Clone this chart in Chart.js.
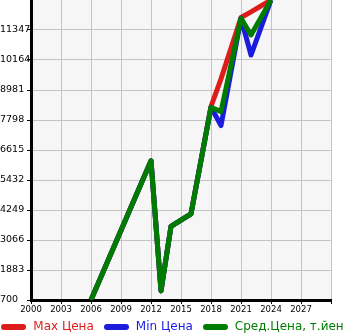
<!DOCTYPE html>
<html>
<head>
<meta charset="utf-8">
<script src="https://cdn.jsdelivr.net/npm/chart.js@4.4.1/dist/chart.umd.min.js"></script>
<style>
  html, body { margin: 0; padding: 0; background: #fff; overflow: hidden; }
  #wrap { width: 345px; height: 318px; }
  #legend { width: 345px; height: 17px; display: flex; justify-content: center; white-space: nowrap;
            font: 12px 'DejaVu Sans'; line-height: 19px; }
  .item { display: flex; align-items: center; margin: 0 5px; flex-shrink: 0; }
  .mark { display: inline-block; width: 25px; height: 6px; border-radius: 3px; margin-right: 7px; }
</style>
</head>
<body>
<div id="wrap"><canvas id="canvas" width="345" height="318"></canvas></div>
<div id="legend"></div>
<script>
const years = [2006, 2012, 2013, 2014, 2016, 2018, 2019, 2021, 2022, 2024]
const maxPrice = [700, 6190, 1060, 3600, 4100, 8330, 9420, 11840, 12060, 12530]
const minPrice = [700, 6190, 1060, 3600, 4100, 8300, 7580, 11810, 10360, 12530]
const avgPrice = [700, 6190, 1060, 3600, 4100, 8300, 8130, 11810, 11150, 12530]
const yTicks = [700, 1883, 3066, 4249, 5432, 6615, 7798, 8981, 10164, 11347]
const xTicks = [2000, 2003, 2006, 2009, 2012, 2015, 2018, 2021, 2024, 2027, 2030]
const seriesNames = ['Max Цена', 'Min Цена', 'Сред.Цена, т.йен']
const seriesColors = ['#dd1c1c', '#1c1cdd', '#007d00']

function points(vals) {
  return years.map((y, i) => ({ x: y, y: vals[i] }))
}

const plotBg = {
  id: 'plotBg',
  beforeDraw(chart) {
    const a = chart.chartArea
    const c = chart.ctx
    c.save()
    c.fillStyle = '#f6f6f6'
    c.fillRect(a.left, a.top, a.right - a.left, a.bottom - a.top)
    c.restore()
  }
}

const ctx = document.getElementById('canvas').getContext('2d')
const myChart = new Chart(ctx, {
  type: 'line',
  data: {
    datasets: [maxPrice, minPrice, avgPrice].map((vals, i) => ({
      label: seriesNames[i],
      data: points(vals),
      borderColor: seriesColors[i],
      backgroundColor: seriesColors[i],
      borderWidth: 5,
      borderJoinStyle: 'round',
      pointRadius: 0,
      tension: 0,
      order: 3 - i
    }))
  },
  options: {
    responsive: false,
    animation: false,
    layout: { padding: { top: 0, right: 14, left: 0, bottom: 0 } },
    scales: {
      x: {
        type: 'linear',
        min: 2000,
        max: 2030,
        afterBuildTicks: s => { s.ticks = xTicks.map(v => ({ value: v })) },
        afterFit: s => { s.height = 18 },
        ticks: {
          autoSkip: false,
          maxRotation: 0,
          padding: 1,
          color: '#000',
          font: { family: 'DejaVu Sans', size: 8.5 },
          callback: v => v === 2030 ? '' : String(v)
        },
        grid: { color: '#c4c4c4', lineWidth: 1, tickColor: '#000', tickLength: 4 },
        border: { color: '#000', width: 3 }
      },
      y: {
        min: 700,
        max: 12530,
        afterBuildTicks: s => { s.ticks = yTicks.map(v => ({ value: v })) },
        afterFit: s => { s.width = 31; s.paddingTop = 0 },
        ticks: {
          autoSkip: false,
          crossAlign: 'far',
          padding: 0,
          color: '#000',
          font: { family: 'DejaVu Sans', size: 9.5 },
          callback: v => String(v)
        },
        grid: { color: '#c4c4c4', lineWidth: 1, tickColor: '#000', tickLength: 4 },
        border: { color: '#000', width: 3 }
      }
    },
    plugins: {
      tooltip: { enabled: false },
      legend: { display: false }
    }
  },
  plugins: [plotBg]
})

// legend below the canvas
const legend = document.getElementById('legend')
seriesNames.forEach((name, i) => {
  const item = document.createElement('span')
  item.className = 'item'
  item.style.color = seriesColors[i]
  item.innerHTML = '<span class="mark" style="background:' + seriesColors[i] + '"></span>' + name
  legend.appendChild(item)
})
</script>
</body>
</html>
